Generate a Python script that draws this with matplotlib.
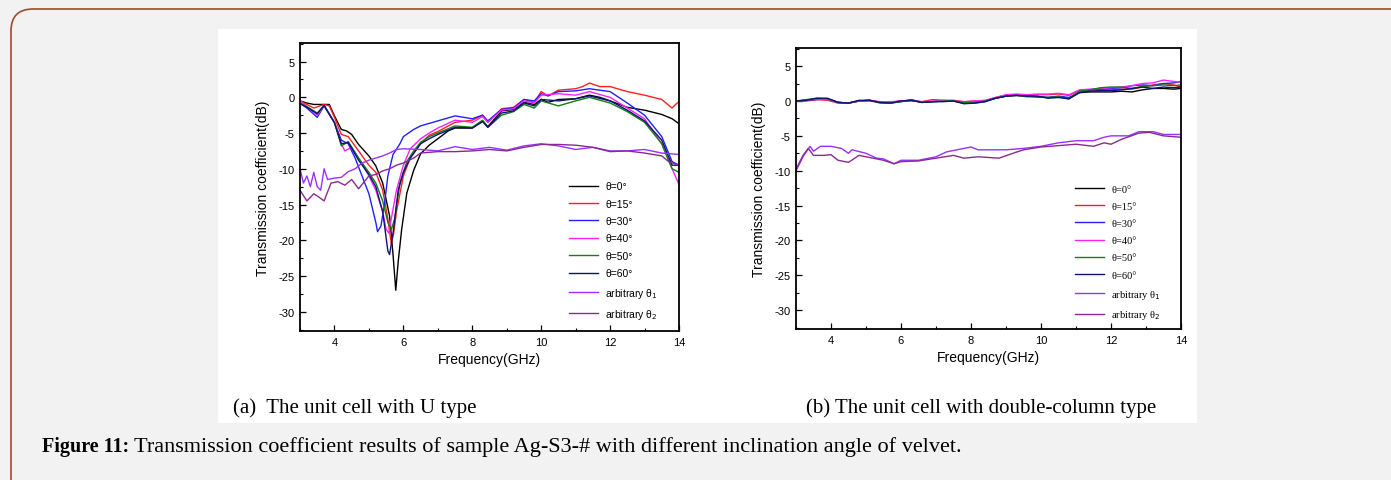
import matplotlib
matplotlib.use("Agg")
import matplotlib.pyplot as plt
from matplotlib.patches import FancyBboxPatch, Rectangle
from matplotlib.transforms import IdentityTransform
from matplotlib.ticker import MultipleLocator

plt.rcParams["axes.unicode_minus"] = False

# ---------------- data: panel (a) U type ----------------
a_f_0 = [3.0, 3.2, 3.4, 3.6, 3.85, 4.0, 4.2, 4.35, 4.5, 4.7, 5.0, 5.2, 5.4, 5.6, 5.7, 5.78, 5.85, 5.95, 6.1, 6.3, 6.5, 6.75, 7.0, 7.3, 7.5, 8.0, 8.3, 8.45, 8.6, 8.85, 9.2, 9.5, 9.8, 10.0, 10.2, 10.5, 11.0, 11.4, 11.7, 12.0, 12.5, 13.0, 13.5, 13.8, 14.0]
a_t_0 = [-0.5, -0.8, -1.0, -1.0, -1.0, -2.6, -4.5, -4.7, -5.2, -6.6, -8.2, -9.6, -12.0, -16.6, -22.0, -27.0, -23.0, -18.5, -13.4, -10.2, -7.9, -6.7, -5.8, -4.7, -4.3, -4.3, -3.3, -4.1, -3.3, -1.9, -1.7, -0.7, -1.0, -0.3, -0.7, -0.3, -0.2, 0.3, 0.0, -0.5, -1.4, -1.8, -2.4, -3.0, -3.7]

a_f_15 = [3.0, 3.2, 3.4, 3.7, 3.85, 4.0, 4.2, 4.4, 4.7, 5.0, 5.2, 5.4, 5.55, 5.65, 5.72, 5.8, 6.0, 6.2, 6.5, 6.75, 7.0, 7.5, 8.0, 8.3, 8.45, 8.85, 9.2, 9.5, 9.8, 10.0, 10.2, 10.5, 11.0, 11.2, 11.4, 11.7, 12.0, 12.5, 13.0, 13.5, 13.8, 13.9, 14.0]
a_t_15 = [-0.5, -1.0, -1.5, -1.0, -1.2, -2.8, -5.2, -5.5, -7.5, -9.5, -10.5, -13.0, -17.0, -20.5, -19.0, -16.0, -11.0, -8.5, -6.5, -5.3, -4.8, -3.5, -3.2, -2.5, -3.5, -1.6, -1.4, -0.3, -0.7, 0.8, 0.2, 1.0, 1.2, 1.5, 2.0, 1.5, 1.5, 0.8, 0.3, -0.3, -1.5, -1.0, -0.6]

a_f_30 = [3.0, 3.2, 3.5, 3.7, 4.0, 4.2, 4.4, 4.6, 4.8, 5.0, 5.2, 5.25, 5.35, 5.45, 5.55, 5.7, 5.9, 6.0, 6.3, 6.5, 7.0, 7.5, 8.0, 8.3, 8.45, 8.85, 9.2, 9.5, 9.8, 10.0, 10.2, 10.5, 11.0, 11.4, 12.0, 12.5, 13.0, 13.5, 13.8, 14.0]
a_t_30 = [-0.8, -1.5, -2.8, -1.2, -3.5, -6.0, -6.5, -8.5, -11.0, -13.5, -17.5, -18.8, -18.0, -15.0, -11.0, -8.0, -6.5, -5.5, -4.5, -4.0, -3.3, -2.6, -3.0, -2.5, -3.3, -1.7, -1.5, -0.3, -0.5, 0.5, 0.2, 0.8, 0.9, 1.2, 0.8, -0.8, -2.5, -5.5, -9.0, -9.5]

a_f_40 = [3.0, 3.2, 3.5, 3.7, 4.0, 4.2, 4.3, 4.5, 4.7, 5.0, 5.2, 5.4, 5.5, 5.58, 5.65, 5.8, 6.0, 6.2, 6.5, 6.75, 7.0, 7.5, 8.0, 8.3, 8.45, 8.85, 9.2, 9.5, 9.8, 10.0, 10.5, 11.0, 11.4, 12.0, 12.5, 13.0, 13.5, 13.8, 14.0]
a_t_40 = [-0.5, -1.3, -2.5, -1.2, -3.5, -6.5, -7.5, -7.0, -8.5, -11.0, -13.0, -16.0, -18.5, -19.0, -17.0, -13.0, -9.5, -7.2, -5.8, -5.0, -4.3, -3.2, -3.5, -2.7, -3.5, -1.8, -1.6, -0.5, -0.8, 0.3, 0.5, 0.3, 0.8, 0.0, -1.5, -3.0, -6.5, -10.0, -12.2]

a_f_50 = [3.0, 3.2, 3.5, 3.7, 4.0, 4.2, 4.4, 4.7, 5.0, 5.2, 5.4, 5.55, 5.65, 5.75, 5.9, 6.1, 6.3, 6.5, 6.75, 7.0, 7.5, 8.0, 8.3, 8.45, 8.85, 9.2, 9.5, 9.8, 10.0, 10.5, 11.0, 11.4, 12.0, 12.5, 13.0, 13.5, 13.8, 14.0]
a_t_50 = [-0.8, -1.3, -2.2, -1.2, -3.5, -6.8, -6.2, -8.5, -10.5, -12.0, -14.5, -17.5, -18.5, -17.0, -12.0, -9.0, -7.5, -6.3, -5.5, -5.0, -4.0, -4.2, -3.2, -4.2, -2.5, -2.0, -1.0, -1.5, -0.5, -1.2, -0.5, 0.0, -0.8, -2.0, -3.5, -6.5, -10.0, -10.5]

a_f_60 = [3.0, 3.2, 3.5, 3.7, 4.0, 4.2, 4.4, 4.7, 5.0, 5.2, 5.4, 5.55, 5.6, 5.7, 5.85, 6.0, 6.2, 6.5, 6.75, 7.0, 7.5, 8.0, 8.3, 8.45, 8.85, 9.2, 9.5, 9.8, 10.0, 10.5, 11.0, 11.4, 12.0, 12.5, 13.0, 13.5, 13.8, 14.0]
a_t_60 = [-0.9, -1.4, -2.3, -1.1, -3.6, -6.5, -6.3, -8.8, -10.8, -12.5, -16.0, -21.5, -22.0, -19.0, -13.0, -10.5, -8.5, -6.5, -5.8, -5.2, -4.2, -4.3, -3.4, -4.2, -2.2, -1.9, -0.8, -1.2, -0.3, -0.5, -0.2, 0.2, -0.5, -1.8, -3.3, -6.0, -9.5, -9.5]

a_f_arb1 = [3.0, 3.1, 3.2, 3.3, 3.4, 3.5, 3.6, 3.7, 3.8, 4.0, 4.2, 4.4, 4.6, 4.8, 5.0, 5.2, 5.4, 5.6, 5.8, 6.0, 6.5, 7.0, 7.5, 8.0, 8.5, 9.0, 9.5, 10.0, 10.5, 11.0, 11.5, 12.0, 12.5, 13.0, 13.5, 14.0]
a_t_arb1 = [-10.0, -12.0, -11.0, -12.5, -10.5, -12.5, -13.0, -10.0, -11.5, -11.3, -11.2, -10.4, -10.0, -9.2, -8.8, -8.5, -8.2, -7.8, -7.3, -7.2, -7.3, -7.5, -6.9, -7.3, -7.0, -7.4, -6.8, -6.5, -6.8, -7.3, -7.0, -7.5, -7.5, -7.3, -7.8, -8.0]

a_f_arb2 = [3.0, 3.2, 3.4, 3.5, 3.7, 3.9, 4.1, 4.3, 4.5, 4.7, 5.0, 5.2, 5.4, 5.6, 5.8, 6.0, 6.3, 6.5, 7.0, 7.5, 8.0, 8.5, 9.0, 9.5, 10.0, 10.5, 11.0, 11.5, 12.0, 12.5, 13.0, 13.5, 13.7, 14.0]
a_t_arb2 = [-13.0, -14.5, -13.5, -13.8, -14.5, -12.0, -11.8, -12.3, -11.5, -12.8, -11.0, -10.8, -10.3, -10.0, -9.5, -9.2, -8.5, -7.8, -7.6, -7.6, -7.5, -7.3, -7.5, -7.0, -6.6, -6.6, -6.7, -7.0, -7.6, -7.5, -7.8, -8.2, -9.0, -9.5]

# ---------------- data: panel (b) double-column type ----------------
b_f = [3.0, 3.3, 3.6, 3.9, 4.2, 4.5, 4.8, 5.1, 5.4, 5.7, 6.0, 6.3, 6.6, 6.9, 7.2, 7.5, 7.8, 8.1, 8.4, 8.7, 9.0, 9.3, 9.6, 9.9, 10.2, 10.5, 10.8, 11.1, 11.4, 11.7, 12.0, 12.3, 12.6, 12.9, 13.2, 13.5, 13.8, 14.0]
b_t_0 = [0.0, 0.1, 0.3, 0.3, -0.2, -0.3, 0.0, 0.1, -0.2, -0.2, 0.0, 0.1, -0.2, -0.1, 0.0, 0.0, -0.3, -0.2, 0.0, 0.4, 0.7, 0.8, 0.7, 0.6, 0.5, 0.6, 0.4, 1.2, 1.3, 1.3, 1.3, 1.4, 1.3, 1.6, 1.8, 1.8, 1.7, 1.8]
b_t_15 = [0.0, 0.0, 0.2, 0.1, -0.3, -0.3, 0.0, 0.0, -0.2, -0.2, 0.0, 0.0, -0.1, 0.2, 0.1, 0.1, -0.1, 0.0, 0.0, 0.5, 0.8, 0.9, 0.8, 0.9, 0.9, 1.0, 0.8, 1.5, 1.6, 1.6, 1.6, 1.7, 1.7, 2.0, 2.3, 2.5, 2.3, 2.0]
b_t_30 = [0.0, 0.1, 0.2, 0.3, -0.2, -0.3, 0.0, 0.1, -0.2, -0.3, -0.1, 0.2, -0.2, -0.1, 0.0, 0.0, -0.3, -0.3, -0.1, 0.4, 0.7, 0.9, 0.8, 0.6, 0.5, 0.7, 0.5, 1.3, 1.6, 1.7, 1.8, 1.9, 2.2, 2.3, 2.2, 2.5, 2.6, 2.8]
b_t_40 = [0.0, 0.1, 0.3, 0.2, -0.2, -0.3, 0.0, 0.1, -0.1, -0.1, 0.0, 0.1, -0.1, 0.0, 0.1, 0.0, -0.1, 0.0, 0.1, 0.5, 0.9, 1.0, 0.9, 1.0, 1.0, 1.1, 0.9, 1.6, 1.7, 1.8, 1.9, 2.0, 2.2, 2.5, 2.6, 3.0, 2.8, 2.7]
b_t_50 = [0.0, 0.2, 0.4, 0.3, -0.2, -0.3, 0.0, 0.1, -0.3, -0.3, -0.1, 0.1, -0.2, -0.1, 0.0, 0.0, -0.2, -0.2, 0.0, 0.4, 0.7, 0.8, 0.6, 0.6, 0.5, 0.6, 0.3, 1.4, 1.6, 1.9, 2.0, 2.0, 1.8, 2.1, 2.2, 2.3, 2.2, 2.3]
b_t_60 = [0.0, 0.1, 0.4, 0.4, -0.2, -0.3, 0.1, 0.1, -0.2, -0.3, 0.0, 0.1, -0.2, -0.1, -0.1, 0.0, -0.4, -0.3, -0.1, 0.4, 0.7, 0.8, 0.7, 0.7, 0.4, 0.5, 0.3, 1.2, 1.4, 1.5, 1.5, 1.6, 1.8, 2.0, 1.8, 2.0, 1.9, 2.0]
b_f_arb1 = [3.0, 3.2, 3.4, 3.5, 3.7, 4.0, 4.3, 4.5, 4.6, 5.0, 5.3, 5.5, 5.8, 6.0, 6.5, 7.0, 7.3, 7.6, 8.0, 8.2, 9.0, 9.5, 10.0, 10.5, 11.0, 11.5, 11.8, 12.0, 12.5, 12.8, 13.2, 13.5, 14.0]
b_t_arb1 = [-10.0, -8.0, -6.5, -7.2, -6.5, -6.5, -6.8, -7.5, -7.0, -7.5, -8.2, -8.3, -9.0, -8.5, -8.5, -8.0, -7.3, -7.0, -6.6, -7.0, -7.0, -6.8, -6.5, -6.0, -5.7, -5.7, -5.2, -5.0, -5.0, -4.4, -4.4, -4.8, -4.8]
b_f_arb2 = [3.0, 3.2, 3.35, 3.5, 3.8, 4.0, 4.2, 4.5, 4.8, 5.2, 5.5, 5.8, 6.0, 6.5, 7.0, 7.5, 7.8, 8.2, 8.8, 9.2, 9.5, 10.0, 10.5, 11.0, 11.5, 11.8, 12.0, 12.3, 12.8, 13.1, 13.5, 14.0]
b_t_arb2 = [-9.8, -7.8, -6.8, -7.8, -7.8, -7.7, -8.5, -8.8, -7.8, -8.2, -8.5, -9.0, -8.7, -8.6, -8.2, -7.8, -8.2, -8.0, -8.2, -7.5, -7.0, -6.6, -6.4, -6.2, -6.5, -6.0, -6.2, -5.5, -4.6, -4.5, -5.0, -5.2]

labels = ["θ=0°", "θ=15°", "θ=30°", "θ=40°", "θ=50°", "θ=60°", "arbitrary θ$_1$", "arbitrary θ$_2$"]
colors = ["#000000", "#ff2020", "#2020ff", "#ff20ff", "#108010", "#10107a", "#9a30ff", "#8a2a90"]
x_ticks = [4, 6, 8, 10, 12, 14]
y_ticks = [5, 0, -5, -10, -15, -20, -25, -30]

W, H = 1391, 481
fig = plt.figure(figsize=(W / 100, H / 100), dpi=100)
fig.patch.set_facecolor("#f2f2f2")

# outer rounded frame and white panel (pixel coords), drawn beneath the axes
frame = FancyBboxPatch((11, -30), 1420, H - 10 + 30, boxstyle="round,pad=0,rounding_size=22",
                       transform=IdentityTransform(), facecolor="#f2f2f2",
                       edgecolor="#a0492d", linewidth=1.2, zorder=-3)
fig.patches.append(frame)
panel = Rectangle((218, H - 424), 1197 - 218, 424 - 30, transform=IdentityTransform(),
                  facecolor="white", edgecolor="none", zorder=-2)
fig.patches.append(panel)

sans = "Liberation Sans"
serif = "Liberation Serif"


def make_axes(box):
    x0, y0top, w, h = box
    ax = fig.add_axes([x0 / W, (H - y0top - h) / H, w / W, h / H])
    ax.set_facecolor("white")
    ax.set_xlim(3, 14)
    ax.set_ylim(-32.7, 7.6)
    ax.set_xticks(x_ticks)
    ax.set_yticks(y_ticks)
    ax.xaxis.set_minor_locator(MultipleLocator(1))
    ax.yaxis.set_minor_locator(MultipleLocator(2.5))
    ax.tick_params(which="both", direction="in", top=False, right=False, labelsize=8, pad=4)
    ax.tick_params(which="major", length=4.5, width=0.9)
    ax.tick_params(which="minor", length=2.5, width=0.8)
    for lab in ax.get_xticklabels() + ax.get_yticklabels():
        lab.set_fontfamily(sans)
    for s in ax.spines.values():
        s.set_linewidth(1.3)
    ax.set_xlabel("Frequency(GHz)", fontfamily=sans, fontsize=10, labelpad=4)
    ax.set_ylabel("Transmission coefficient(dB)", fontfamily=sans, fontsize=10, labelpad=6)
    return ax


ax1 = make_axes((300, 44, 379, 288))
a_f = [a_f_0, a_f_15, a_f_30, a_f_40, a_f_50, a_f_60, a_f_arb1, a_f_arb2]
a_t = [a_t_0, a_t_15, a_t_30, a_t_40, a_t_50, a_t_60, a_t_arb1, a_t_arb2]
for f, t, c, l in zip(a_f, a_t, colors, labels):
    ax1.plot(f, t, color=c, lw=1.0, label=l)
leg1 = ax1.legend(loc="upper left", bbox_to_anchor=(0.71, 0.52), frameon=False,
                  prop={"family": sans, "size": 7.5}, handlelength=2.8, handletextpad=0.65,
                  labelspacing=0.71, borderpad=0, borderaxespad=0)

ax2 = make_axes((796, 49, 385, 281))
b_ff = [b_f, b_f, b_f, b_f, b_f, b_f, b_f_arb1, b_f_arb2]
b_t = [b_t_0, b_t_15, b_t_30, b_t_40, b_t_50, b_t_60, b_t_arb1, b_t_arb2]
for f, t, c, l in zip(b_ff, b_t, colors, labels):
    ax2.plot(f, t, color=c, lw=1.0, label=l)
leg2 = ax2.legend(loc="upper left", bbox_to_anchor=(0.725, 0.515), frameon=False,
                  prop={"family": serif, "size": 7.5}, handlelength=2.8, handletextpad=0.65,
                  labelspacing=0.76, borderpad=0, borderaxespad=0)

fig.text(233 / W, 1 - 408 / H, "(a)  The unit cell with U type", fontfamily=serif,
         fontsize=15, va="center", ha="left")
fig.text(806 / W, 1 - 408 / H, "(b) The unit cell with double-column type", fontfamily=serif,
         fontsize=15, va="center", ha="left")
fig.text(42 / W, 1 - 447 / H, "Figure 11:", fontfamily=serif, fontsize=14.5,
         fontweight="bold", va="center", ha="left")
fig.text(134 / W, 1 - 447 / H,
         "Transmission coefficient results of sample Ag-S3-# with different inclination angle of velvet.",
         fontfamily=serif, fontsize=16, va="center", ha="left")

fig.savefig("out.png", dpi=100, facecolor=fig.get_facecolor())
